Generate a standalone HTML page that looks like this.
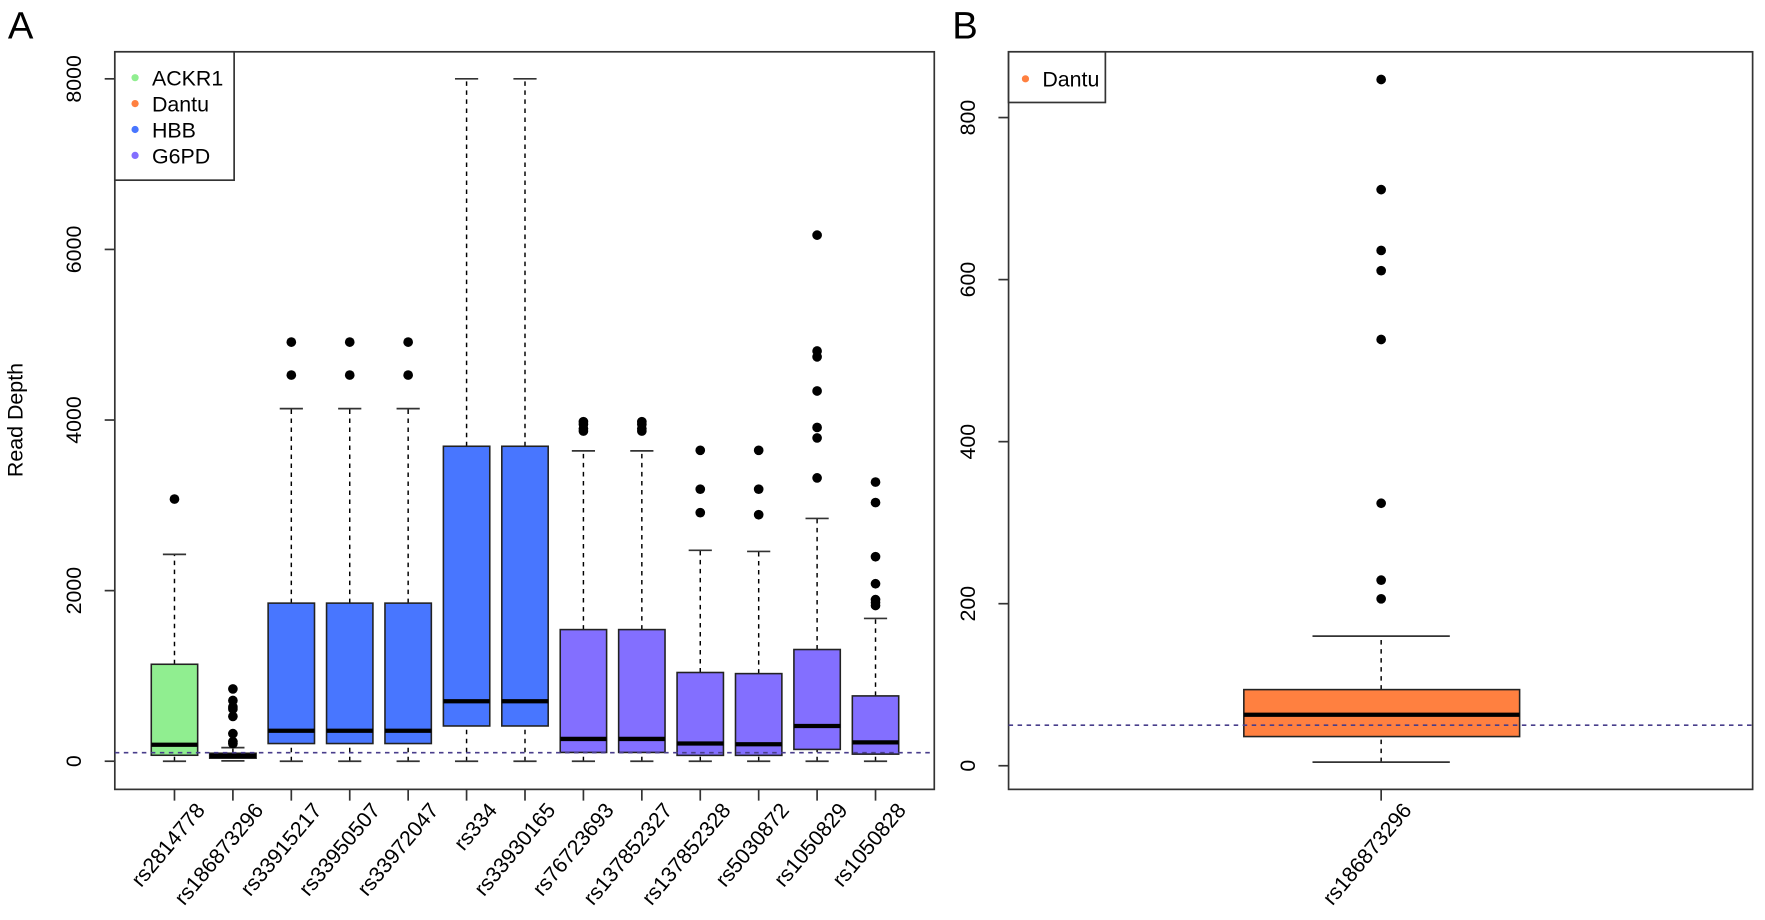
<!DOCTYPE html>
<html><head><meta charset="utf-8"><style>
html,body{margin:0;padding:0;background:#fff;}
svg{display:block;}
text{font-family:"Liberation Sans",Arial,sans-serif;fill:#000;}
</style></head><body>
<svg width="1765" height="920" viewBox="0 0 1568 817" preserveAspectRatio="none" xmlns="http://www.w3.org/2000/svg">
<rect width="1568" height="817" fill="#fff"/>
<text x="7" y="34" font-size="34">A</text>
<text x="846" y="34" font-size="34">B</text>

<!-- Panel A -->
<g stroke="#333" stroke-width="1.5" fill="none">
<rect x="102" y="46" width="728" height="655"/>
<line x1="93" y1="676" x2="102" y2="676"/><line x1="93" y1="524.5" x2="102" y2="524.5"/><line x1="93" y1="373" x2="102" y2="373"/><line x1="93" y1="221.5" x2="102" y2="221.5"/><line x1="93" y1="70" x2="102" y2="70"/>
</g>
<g font-size="19" text-anchor="middle">
<text transform="translate(72,676) rotate(-90)">0</text>
<text transform="translate(72,524.5) rotate(-90)">2000</text>
<text transform="translate(72,373) rotate(-90)">4000</text>
<text transform="translate(72,221.5) rotate(-90)">6000</text>
<text transform="translate(72,70) rotate(-90)">8000</text>
<text transform="translate(20,373) rotate(-90)">Read Depth</text>
</g>
<g stroke="#333" stroke-width="1.5">
<line x1="155" y1="701" x2="155" y2="711"/><line x1="206.9" y1="701" x2="206.9" y2="711"/><line x1="258.8" y1="701" x2="258.8" y2="711"/><line x1="310.7" y1="701" x2="310.7" y2="711"/><line x1="362.6" y1="701" x2="362.6" y2="711"/><line x1="414.5" y1="701" x2="414.5" y2="711"/><line x1="466.4" y1="701" x2="466.4" y2="711"/><line x1="518.3" y1="701" x2="518.3" y2="711"/><line x1="570.2" y1="701" x2="570.2" y2="711"/><line x1="622.1" y1="701" x2="622.1" y2="711"/><line x1="674" y1="701" x2="674" y2="711"/><line x1="725.9" y1="701" x2="725.9" y2="711"/><line x1="777.8" y1="701" x2="777.8" y2="711"/>
</g>
<g font-size="19" text-anchor="end">
<text transform="translate(183,720) rotate(-50)">rs2814778</text>
<text transform="translate(234.9,720) rotate(-50)">rs186873296</text>
<text transform="translate(286.8,720) rotate(-50)">rs33915217</text>
<text transform="translate(338.7,720) rotate(-50)">rs33950507</text>
<text transform="translate(390.6,720) rotate(-50)">rs33972047</text>
<text transform="translate(442.5,720) rotate(-50)">rs334</text>
<text transform="translate(494.4,720) rotate(-50)">rs33930165</text>
<text transform="translate(546.3,720) rotate(-50)">rs76723693</text>
<text transform="translate(598.2,720) rotate(-50)">rs137852327</text>
<text transform="translate(650.1,720) rotate(-50)">rs137852328</text>
<text transform="translate(702,720) rotate(-50)">rs5030872</text>
<text transform="translate(753.9,720) rotate(-50)">rs1050829</text>
<text transform="translate(805.8,720) rotate(-50)">rs1050828</text>
</g>

<g stroke="#000" stroke-width="1.3" stroke-dasharray="4,4">
<line x1="155" y1="589.9" x2="155" y2="492.3"/><line x1="155" y1="676" x2="155" y2="670.7"/>
<line x1="206.9" y1="668.9" x2="206.9" y2="663.9"/>
<line x1="258.8" y1="535.6" x2="258.8" y2="362.9"/><line x1="258.8" y1="676" x2="258.8" y2="660.3"/>
<line x1="310.7" y1="535.6" x2="310.7" y2="362.9"/><line x1="310.7" y1="676" x2="310.7" y2="660.3"/>
<line x1="362.6" y1="535.6" x2="362.6" y2="362.9"/><line x1="362.6" y1="676" x2="362.6" y2="660.3"/>
<line x1="414.5" y1="396.3" x2="414.5" y2="70"/><line x1="414.5" y1="676" x2="414.5" y2="644.7"/>
<line x1="466.4" y1="396.3" x2="466.4" y2="70"/><line x1="466.4" y1="676" x2="466.4" y2="644.7"/>
<line x1="518.3" y1="559.1" x2="518.3" y2="400.4"/><line x1="518.3" y1="676" x2="518.3" y2="668.2"/>
<line x1="570.2" y1="559.1" x2="570.2" y2="400.4"/><line x1="570.2" y1="676" x2="570.2" y2="668.2"/>
<line x1="622.1" y1="597.2" x2="622.1" y2="488.7"/><line x1="622.1" y1="676" x2="622.1" y2="670.8"/>
<line x1="674" y1="598.2" x2="674" y2="489.7"/><line x1="674" y1="676" x2="674" y2="670.8"/>
<line x1="725.9" y1="576.8" x2="725.9" y2="460.4"/><line x1="725.9" y1="676" x2="725.9" y2="665.5"/>
<line x1="777.8" y1="618" x2="777.8" y2="549.2"/><line x1="777.8" y1="676" x2="777.8" y2="669.7"/>
</g>
<g stroke="#333" stroke-width="1.5">
<line x1="144.7" y1="492.3" x2="165.3" y2="492.3"/><line x1="144.7" y1="676" x2="165.3" y2="676"/>
<line x1="196.6" y1="663.9" x2="217.2" y2="663.9"/><line x1="196.6" y1="675.7" x2="217.2" y2="675.7"/>
<line x1="248.5" y1="362.9" x2="269.1" y2="362.9"/><line x1="248.5" y1="676" x2="269.1" y2="676"/>
<line x1="300.4" y1="362.9" x2="321" y2="362.9"/><line x1="300.4" y1="676" x2="321" y2="676"/>
<line x1="352.3" y1="362.9" x2="372.9" y2="362.9"/><line x1="352.3" y1="676" x2="372.9" y2="676"/>
<line x1="404.2" y1="70" x2="424.8" y2="70"/><line x1="404.2" y1="676" x2="424.8" y2="676"/>
<line x1="456.1" y1="70" x2="476.7" y2="70"/><line x1="456.1" y1="676" x2="476.7" y2="676"/>
<line x1="508" y1="400.4" x2="528.6" y2="400.4"/><line x1="508" y1="676" x2="528.6" y2="676"/>
<line x1="559.9" y1="400.4" x2="580.5" y2="400.4"/><line x1="559.9" y1="676" x2="580.5" y2="676"/>
<line x1="611.8" y1="488.7" x2="632.4" y2="488.7"/><line x1="611.8" y1="676" x2="632.4" y2="676"/>
<line x1="663.7" y1="489.7" x2="684.3" y2="489.7"/><line x1="663.7" y1="676" x2="684.3" y2="676"/>
<line x1="715.6" y1="460.4" x2="736.2" y2="460.4"/><line x1="715.6" y1="676" x2="736.2" y2="676"/>
<line x1="767.5" y1="549.2" x2="788.1" y2="549.2"/><line x1="767.5" y1="676" x2="788.1" y2="676"/>
</g>
<g stroke="#222" stroke-width="1.4">
<rect x="134.4" y="589.9" width="41.2" height="80.8" fill="#90EE90"/>
<rect x="186.3" y="668.9" width="41.2" height="4.4" fill="#FF8040"/>
<rect x="238.2" y="535.6" width="41.2" height="124.7" fill="#4876FF"/>
<rect x="290.1" y="535.6" width="41.2" height="124.7" fill="#4876FF"/>
<rect x="342" y="535.6" width="41.2" height="124.7" fill="#4876FF"/>
<rect x="393.9" y="396.3" width="41.2" height="248.4" fill="#4876FF"/>
<rect x="445.8" y="396.3" width="41.2" height="248.4" fill="#4876FF"/>
<rect x="497.7" y="559.1" width="41.2" height="109.1" fill="#836FFF"/>
<rect x="549.6" y="559.1" width="41.2" height="109.1" fill="#836FFF"/>
<rect x="601.5" y="597.2" width="41.2" height="73.6" fill="#836FFF"/>
<rect x="653.4" y="598.2" width="41.2" height="72.6" fill="#836FFF"/>
<rect x="705.3" y="576.8" width="41.2" height="88.7" fill="#836FFF"/>
<rect x="757.2" y="618" width="41.2" height="51.7" fill="#836FFF"/>
</g>
<g stroke="#000" stroke-width="3.8">
<line x1="134.4" y1="661.4" x2="175.6" y2="661.4"/>
<line x1="186.3" y1="671.2" x2="227.5" y2="671.2"/>
<line x1="238.2" y1="648.9" x2="279.4" y2="648.9"/>
<line x1="290.1" y1="648.9" x2="331.3" y2="648.9"/>
<line x1="342" y1="648.9" x2="383.2" y2="648.9"/>
<line x1="393.9" y1="622.7" x2="435.1" y2="622.7"/>
<line x1="445.8" y1="622.7" x2="487" y2="622.7"/>
<line x1="497.7" y1="656.2" x2="538.9" y2="656.2"/>
<line x1="549.6" y1="656.2" x2="590.8" y2="656.2"/>
<line x1="601.5" y1="660.3" x2="642.7" y2="660.3"/>
<line x1="653.4" y1="660.9" x2="694.6" y2="660.9"/>
<line x1="705.3" y1="644.7" x2="746.5" y2="644.7"/>
<line x1="757.2" y1="659.3" x2="798.4" y2="659.3"/>
</g>
<g fill="#000">
<circle cx="155" cy="443.2" r="4.3"/>
<circle cx="206.9" cy="611.8" r="4.3"/><circle cx="206.9" cy="622.1" r="4.3"/><circle cx="206.9" cy="627.8" r="4.3"/><circle cx="206.9" cy="629.6" r="4.3"/><circle cx="206.9" cy="636.2" r="4.3"/><circle cx="206.9" cy="651.5" r="4.3"/><circle cx="206.9" cy="658.6" r="4.3"/><circle cx="206.9" cy="660.4" r="4.3"/>
<circle cx="258.8" cy="303.8" r="4.3"/><circle cx="258.8" cy="333.1" r="4.3"/>
<circle cx="310.7" cy="303.8" r="4.3"/><circle cx="310.7" cy="333.1" r="4.3"/>
<circle cx="362.6" cy="303.8" r="4.3"/><circle cx="362.6" cy="333.1" r="4.3"/>
<circle cx="518.3" cy="374.5" r="4.3"/><circle cx="518.3" cy="376.8" r="4.3"/><circle cx="518.3" cy="380.6" r="4.3"/><circle cx="518.3" cy="382.8" r="4.3"/>
<circle cx="570.2" cy="374.5" r="4.3"/><circle cx="570.2" cy="376.8" r="4.3"/><circle cx="570.2" cy="380.6" r="4.3"/><circle cx="570.2" cy="382.8" r="4.3"/>
<circle cx="622.1" cy="399.9" r="4.3"/><circle cx="622.1" cy="434.4" r="4.3"/><circle cx="622.1" cy="455.3" r="4.3"/>
<circle cx="674" cy="399.9" r="4.3"/><circle cx="674" cy="434.4" r="4.3"/><circle cx="674" cy="457.1" r="4.3"/>
<circle cx="725.9" cy="208.8" r="4.3"/><circle cx="725.9" cy="311.7" r="4.3"/><circle cx="725.9" cy="316.9" r="4.3"/><circle cx="725.9" cy="347.2" r="4.3"/><circle cx="725.9" cy="379.6" r="4.3"/><circle cx="725.9" cy="388.9" r="4.3"/><circle cx="725.9" cy="424.4" r="4.3"/>
<circle cx="777.8" cy="428.1" r="4.3"/><circle cx="777.8" cy="446.3" r="4.3"/><circle cx="777.8" cy="494.4" r="4.3"/><circle cx="777.8" cy="518.4" r="4.3"/><circle cx="777.8" cy="532.5" r="4.3"/><circle cx="777.8" cy="535.1" r="4.3"/><circle cx="777.8" cy="537.7" r="4.3"/>
</g>
<line x1="102" y1="668.4" x2="830" y2="668.4" stroke="#483D8B" stroke-width="1.4" stroke-dasharray="4,4"/>
<rect x="102" y="46" width="106" height="114" fill="#fff" stroke="#333" stroke-width="1.5"/>
<circle cx="120" cy="69" r="3.2" fill="#90EE90"/><circle cx="120" cy="92" r="3.2" fill="#FF8040"/><circle cx="120" cy="115" r="3.2" fill="#4876FF"/><circle cx="120" cy="138" r="3.2" fill="#836FFF"/>
<g font-size="19"><text x="135" y="76">ACKR1</text><text x="135" y="99">Dantu</text><text x="135" y="122">HBB</text><text x="135" y="145">G6PD</text></g>

<!-- Panel B -->
<g stroke="#333" stroke-width="1.5" fill="none">
<rect x="896" y="46" width="661" height="655"/>
<line x1="887" y1="680" x2="896" y2="680"/><line x1="887" y1="536.1" x2="896" y2="536.1"/><line x1="887" y1="392.2" x2="896" y2="392.2"/><line x1="887" y1="248.3" x2="896" y2="248.3"/><line x1="887" y1="104.4" x2="896" y2="104.4"/>
<line x1="1227" y1="701" x2="1227" y2="711"/>
</g>
<g font-size="19" text-anchor="middle">
<text transform="translate(866,680) rotate(-90)">0</text>
<text transform="translate(866,536.1) rotate(-90)">200</text>
<text transform="translate(866,392.2) rotate(-90)">400</text>
<text transform="translate(866,248.3) rotate(-90)">600</text>
<text transform="translate(866,104.4) rotate(-90)">800</text>
</g>
<text transform="translate(1255,720) rotate(-50)" font-size="19" text-anchor="end">rs186873296</text>
<g stroke="#000" stroke-width="1.3" stroke-dasharray="4,4">
<line x1="1227" y1="612.4" x2="1227" y2="564.9"/><line x1="1227" y1="676.8" x2="1227" y2="654.1"/>
</g>
<g stroke="#333" stroke-width="1.5">
<line x1="1166" y1="564.9" x2="1288" y2="564.9"/><line x1="1166" y1="676.8" x2="1288" y2="676.8"/>
</g>
<rect x="1105" y="612.4" width="245" height="41.7" fill="#FF8040" stroke="#222" stroke-width="1.4"/>
<line x1="1105" y1="634.7" x2="1350" y2="634.7" stroke="#000" stroke-width="3.8"/>
<g fill="#000">
<circle cx="1227" cy="70.6" r="4.3"/><circle cx="1227" cy="168.4" r="4.3"/><circle cx="1227" cy="222.4" r="4.3"/><circle cx="1227" cy="240.4" r="4.3"/><circle cx="1227" cy="301.5" r="4.3"/><circle cx="1227" cy="446.9" r="4.3"/><circle cx="1227" cy="515.2" r="4.3"/><circle cx="1227" cy="531.8" r="4.3"/>
</g>
<line x1="896" y1="644" x2="1557" y2="644" stroke="#483D8B" stroke-width="1.4" stroke-dasharray="4,4"/>
<rect x="896" y="46" width="86" height="45" fill="#fff" stroke="#333" stroke-width="1.5"/>
<circle cx="911" cy="70" r="3.2" fill="#FF8040"/>
<text x="926" y="77" font-size="19">Dantu</text>
</svg>
</body></html>
